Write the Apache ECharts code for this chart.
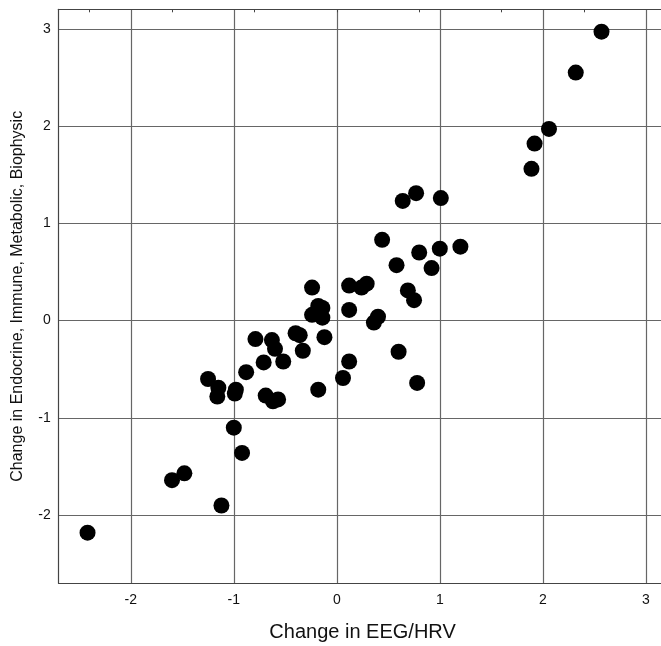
<!DOCTYPE html>
<html>
<head>
<meta charset="utf-8">
<script src="https://cdn.jsdelivr.net/npm/echarts@6/dist/echarts.min.js"></script>
<style>
  html, body { margin: 0; padding: 0; background: #fff; }
  #chart { width: 661px; height: 646px; }
</style>
</head>
<body>
<div id="chart"></div>
<script>
// Change in EEG/HRV (x) against change in endocrine/immune/metabolic/biophysic score (y)
const eegHrv = [
  2.57, 2.32, 2.06, 1.92, 1.89, 0.77, 0.64, 1.01, 0.44, 1.20,
  1.00, 0.80, 0.58, 0.92, 0.12, 0.29, 0.24, -0.24, 0.69, 0.75,
  0.12, 0.40, 0.36, -0.18, -0.14, -0.24, -0.14, -0.79, -0.63, -0.60,
  -0.40, -0.36, -0.12, -0.33, 0.60, -0.71, -0.52, -0.88, 0.12, 0.06,
  -0.18, -1.25, -1.15, -1.16, -0.98, -0.99, -0.69, -0.62, -0.57, -1.00,
  -0.92, -1.48, -1.60, -1.12, -2.42, 0.78
];
const bodyChange = [
  2.97, 2.55, 1.97, 1.82, 1.56, 1.31, 1.23, 1.26, 0.83, 0.76,
  0.74, 0.70, 0.57, 0.54, 0.36, 0.38, 0.34, 0.34, 0.31, 0.21,
  0.11, 0.04, -0.02, 0.15, 0.13, 0.06, 0.03, -0.19, -0.20, -0.29,
  -0.13, -0.15, -0.17, -0.31, -0.32, -0.43, -0.42, -0.53, -0.42, -0.59,
  -0.71, -0.60, -0.69, -0.78, -0.71, -0.75, -0.77, -0.83, -0.81, -1.10,
  -1.36, -1.57, -1.64, -1.90, -2.18, -0.64
];
const xTickValues = [-2, -1, 0, 1, 2, 3];
const yTickValues = [-2, -1, 0, 1, 2, 3];
const topTickValues = [-2.4, -1.6, -0.8, 0, 0.8, 1.6, 2.4];

const points = eegHrv.map((x, i) => [x, bodyChange[i]]);

const FONT = '"Liberation Sans", Arial, Helvetica, sans-serif';
const GRID_LINE = { show: true, lineStyle: { color: '#666', width: 1.2 } };
const FRAME = { show: true, onZero: false, lineStyle: { color: '#444', width: 1.2 } };

const chart = echarts.init(document.getElementById('chart'), null, { renderer: 'canvas' });
chart.setOption({
  animation: false,
  backgroundColor: '#ffffff',
  grid: {
    left: 58.7, top: 9.3, width: 607.7, height: 574,
    containLabel: false,
    outerBoundsMode: 'none'
  },
  xAxis: [
    {
      type: 'value',
      position: 'bottom',
      min: -2.7, max: 3.2,
      name: 'Change in EEG/HRV',
      nameLocation: 'middle',
      nameGap: 39,
      nameTextStyle: { fontFamily: FONT, fontSize: 20, color: '#111' },
      axisLine: FRAME,
      axisTick: { show: false, customValues: xTickValues },
      axisLabel: {
        customValues: xTickValues,
        fontFamily: FONT, fontSize: 14, color: '#111', margin: 10
      },
      splitLine: GRID_LINE
    },
    {
      type: 'value',
      position: 'top',
      min: -2.7, max: 3.2,
      axisLine: FRAME,
      axisTick: {
        show: true, inside: true, length: 3,
        customValues: topTickValues,
        lineStyle: { color: '#444', width: 1 }
      },
      axisLabel: { show: false },
      splitLine: { show: false }
    }
  ],
  yAxis: {
    type: 'value',
    min: -2.7, max: 3.2,
    name: 'Change in Endocrine, Immune, Metabolic, Biophysic',
    nameLocation: 'middle',
    nameGap: 33,
    nameTextStyle: { fontFamily: FONT, fontSize: 16, color: '#111' },
    axisLine: FRAME,
    axisTick: { show: false, customValues: yTickValues },
    axisLabel: {
      customValues: yTickValues,
      fontFamily: FONT, fontSize: 14, color: '#111', margin: 8
    },
    splitLine: GRID_LINE
  },
  series: [{
    type: 'scatter',
    xAxisIndex: 0,
    data: points,
    symbol: 'circle',
    symbolSize: 16,
    itemStyle: { color: '#000', opacity: 1 },
    emphasis: { disabled: true }
  }]
});
</script>
</body>
</html>
